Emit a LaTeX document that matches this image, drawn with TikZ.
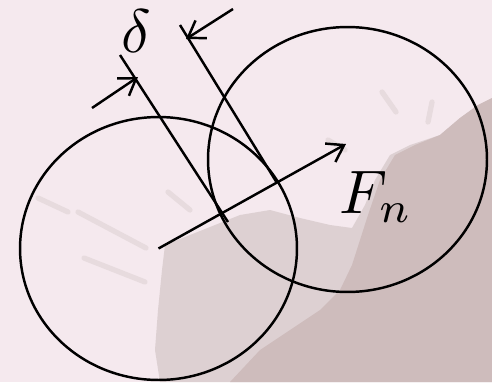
\documentclass[tikz,border=0pt]{standalone}
\usepackage{amsmath}
\usetikzlibrary{shapes.geometric,arrows.meta,positioning}
\definecolor{paper}{RGB}{245,233,238}
\definecolor{stain}{RGB}{206,188,188}
\definecolor{stainmid}{RGB}{221,208,210}
\definecolor{streak}{RGB}{231,219,222}
\tikzset{
  ball/.style={draw=black,ellipse,inner sep=0pt,line width=1.4pt},
  gap/.style={black,line width=1.4pt},
  arr/.style={-{Straight Barb[length=9pt,width=12pt]},black,line width=1.4pt},
  lbl/.style={inner sep=0pt},
  splash/.style={streak,line width=3pt,line cap=round},
}
\newcommand{\bigsym}[1]{\scalebox{3.5}{$#1$}}

\begin{document}
\begin{tikzpicture}[x=0.02cm,y=-0.02cm]
  % background and stain
  \fill[paper] (0,0) rectangle (492,382);
  \fill[stainmid] (160,382) -- (155,350) -- (158,310) -- (162,270) -- (165,245)
    -- (190,235) -- (215,225) -- (240,215) -- (270,210) -- (300,218) -- (330,225)
    -- (352,228) -- (365,205) -- (375,180) -- (390,155) -- (410,145) -- (440,135)
    -- (460,118) -- (478,105) -- (492,98) -- (492,382) -- cycle;
  \fill[stain] (230,382) -- (260,350) -- (290,330) -- (320,310) -- (340,290)
    -- (352,265) -- (360,240) -- (368,215) -- (380,180) -- (395,155) -- (415,145)
    -- (440,135) -- (460,118) -- (478,105) -- (492,98) -- (492,382) -- cycle;
  \draw[splash] (38,198) -- (68,212);
  \draw[splash] (78,212) -- (146,248);
  \draw[splash] (84,258) -- (145,282);
  \draw[splash] (168,192) -- (190,210);
  \draw[splash] (328,140) -- (345,150);
  \draw[splash] (382,92) -- (396,112);
  \draw[splash] (432,102) -- (428,122);

  % bodies
  \node[ball,minimum width=5.54cm,minimum height=5.26cm] (ballA) at (158.5,248.5) {};
  \node[ball,minimum width=5.58cm,minimum height=5.3cm] (ballB) at (347.5,159.5) {};

  % normal force
  \coordinate (fntip) at (346,144);
  \draw[arr] (ballA.center) -- (fntip);

  % overlap marks
  \coordinate (gapAtop) at (120,55);
  \coordinate (gapAbot) at (228,222);
  \coordinate (gapBtop) at (180,25);
  \coordinate (gapBbot) at (277,183);
  \draw[gap] (gapAtop) -- (gapAbot);
  \draw[gap] (gapBtop) -- (gapBbot);
  \coordinate (inA) at (92,108);
  \coordinate (hitA) at (138,77);
  \coordinate (inB) at (233,9);
  \coordinate (hitB) at (186,39);
  \draw[arr] (inA) -- (hitA);
  \draw[arr] (inB) -- (hitB);

  % labels
  \node[lbl] (delta) at (136,31) {\bigsym{\delta}};
  \node[lbl] (force) at (376,197) {\bigsym{F_n}};
\end{tikzpicture}
\end{document}
